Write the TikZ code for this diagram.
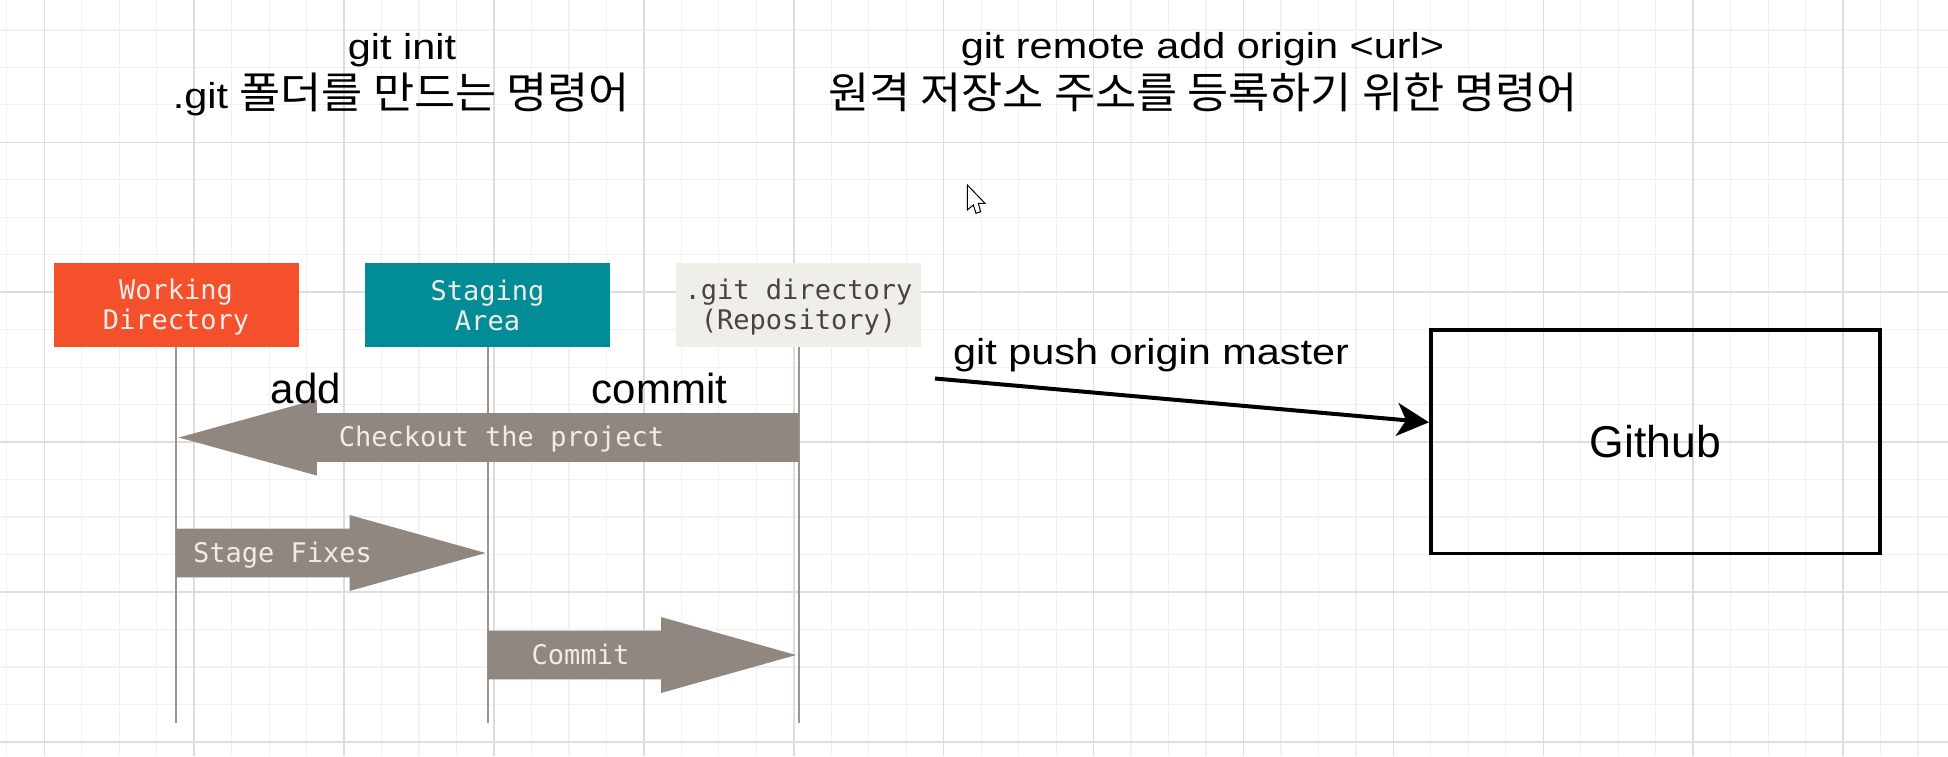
\documentclass[tikz,border=0pt]{standalone}
\usepackage{fontspec}
\setmainfont{Liberation Sans}
\newfontfamily\labelfont[FakeStretch=1.15]{Liberation Sans}
\newfontfamily\krfont[FakeStretch=1.04]{Noto Sans CJK KR}
\newfontfamily\figfont{DejaVu Sans Mono}
\usetikzlibrary{calc}
\usetikzlibrary{arrows.meta}

\definecolor{workorange}{RGB}{245,80,44}
\definecolor{stageteal}{RGB}{1,140,150}
\definecolor{repobeige}{RGB}{240,238,233}
\definecolor{repotext}{RGB}{72,68,64}
\definecolor{figlight}{RGB}{240,236,232}
\definecolor{arrowgrey}{RGB}{143,135,128}
\definecolor{lifegrey}{RGB}{155,147,143}
\definecolor{gridmajor}{RGB}{221,221,221}
\definecolor{gridminor}{RGB}{241,241,241}

\newcommand{\bstrut}{\rule[-4pt]{0pt}{28pt}}
\newcommand{\krtext}[1]{{\krfont\fontsize{43}{48}\selectfont #1}}
% fat arrow: tail, tip, head offset
\newcommand{\fatarrow}[3]{%
  \fill[arrowgrey] ($(#1)+(0,-24.3)$) -- ($(#2)+(#3,-24.3)$) -- ($(#2)+(#3,-38)$) -- (#2) -- ($(#2)+(#3,38)$) -- ($(#2)+(#3,24.3)$) -- ($(#1)+(0,24.3)$) -- cycle ;}

\begin{document}
\begin{tikzpicture}[x=1pt,y=1pt,yscale=-1,xscale=1,
    figbox/.style={rectangle,minimum width=245,minimum height=84,inner sep=0,outer sep=0,align=center,font=\figfont\fontsize{27}{30}\selectfont},
    figtext/.style={inner sep=0,text=figlight,font=\figfont\fontsize{27}{30}\selectfont},
    lifeline/.style={draw=lifegrey,line width=2},
    toplabel/.style={inner sep=0,font=\labelfont\fontsize{36}{48}\selectfont},
    steplabel/.style={inner sep=0,font=\fontsize{42}{48}\selectfont}]
                  \useasboundingbox (0,0) rectangle (1948,756);
                  \fill[white] (0,0) rectangle (1948,756);

                  %Grid
                  \foreach \i in {0,...,51} \draw[gridminor,line width=1.2] (6.8+37.475*\i,0) -- (6.8+37.475*\i,756);
                  \foreach \j in {0,...,19} \draw[gridminor,line width=1.2] (0,29.9+37.475*\j) -- (1948,29.9+37.475*\j);
                  \foreach \k in {0,...,12} \draw[gridmajor,line width=1.5] (44.3+149.9*\k,0) -- (44.3+149.9*\k,756);
                  \foreach \k in {0,...,4} \draw[gridmajor,line width=1.5] (0,142.3+149.9*\k) -- (1948,142.3+149.9*\k);

                  % Text Node
                  \node[toplabel,anchor=base] (initcmd) at (402,59) {git init};
                  % Text Node
                  \node[toplabel,anchor=base] (initdesc) at (401.4,108) {.git \krtext{폴더를 만드는 명령어}};
                  % Text Node
                  \node[toplabel,anchor=base] (remotecmd) at (1202.4,58.5) {git remote add origin <url>};
                  % Text Node
                  \node[inner sep=0,anchor=base] (remotedesc) at (1203,108) {\krtext{원격 저장소 주소를 등록하기 위한 명령어}};

                  %Shape: Cursor
                  \filldraw[fill=white,draw=black,line width=1] (967.3,185) -- ++(0,25) -- ++(6,-5) -- ++(2.7,8.3) -- ++(4.6,-1.6) -- ++(-2.3,-8.4) -- ++(6.7,0) -- cycle ;

                  %Shape: Rectangle
                  \node[figbox,fill=workorange,text=figlight] (work) at (176,305.4) {\bstrut Working\\\bstrut Directory};
                  \node[figbox,fill=stageteal,text=figlight] (stage) at (487.5,305.4) {\bstrut Staging\\\bstrut Area};
                  \node[figbox,fill=repobeige,text=repotext] (repo) at (798.5,305.4) {\bstrut .git directory\\\bstrut (Repository)};

                  %Straight Lines
                  \coordinate (workend) at (176,723);
                  \coordinate (stageend) at (487.5,723);
                  \coordinate (repoend) at (798.5,723);
                  \draw[lifeline] (work.south) -- (workend);
                  \draw[lifeline] (stage.south) -- (stageend);
                  \draw[lifeline] (repo.south) -- (repoend);

                  %Shape: Fat Arrows
                  \coordinate (cotail) at (798.5,437.5);
                  \coordinate (cotip) at (178.8,437.5);
                  \coordinate (sftail) at (176,553);
                  \coordinate (sftip) at (485.6,553);
                  \coordinate (cmtail) at (487.5,655);
                  \coordinate (cmtip) at (796,655);
                  \fatarrow{cotail}{cotip}{138}
                  \fatarrow{sftail}{sftip}{-136}
                  \fatarrow{cmtail}{cmtip}{-135}

                  % Text Node
                  \node[figtext,anchor=base] (cotext) at (501.5,446) {Checkout the project};
                  \node[figtext,anchor=base west] (sftext) at (193,562) {Stage Fixes};
                  \node[figtext,anchor=base] (cmtext) at (580.5,664) {Commit};
                  % Text Node
                  \node[steplabel,anchor=base] (addlabel) at (306,403) {add};
                  \node[steplabel,anchor=base] (commitlabel) at (659.5,403) {commit};

                  %Shape: Rectangle
                  \node[draw=black,line width=3.8,minimum width=448.8,minimum height=223.2,inner sep=0,font=\fontsize{44.5}{50}\selectfont] (github) at (1655.3,441.8) {Github};

                  %Straight Lines
                  \coordinate (pushstart) at (935,378.5);
                  \draw[line width=4,-{Stealth[length=32pt,width=33pt,inset=9pt]}] (pushstart) -- ($(github.west)+(0,-19.5)$);
                  % Text Node
                  \node[toplabel,anchor=base] (pushlabel) at (1151,364.5) {git push origin master};

\end{tikzpicture}
\end{document}
